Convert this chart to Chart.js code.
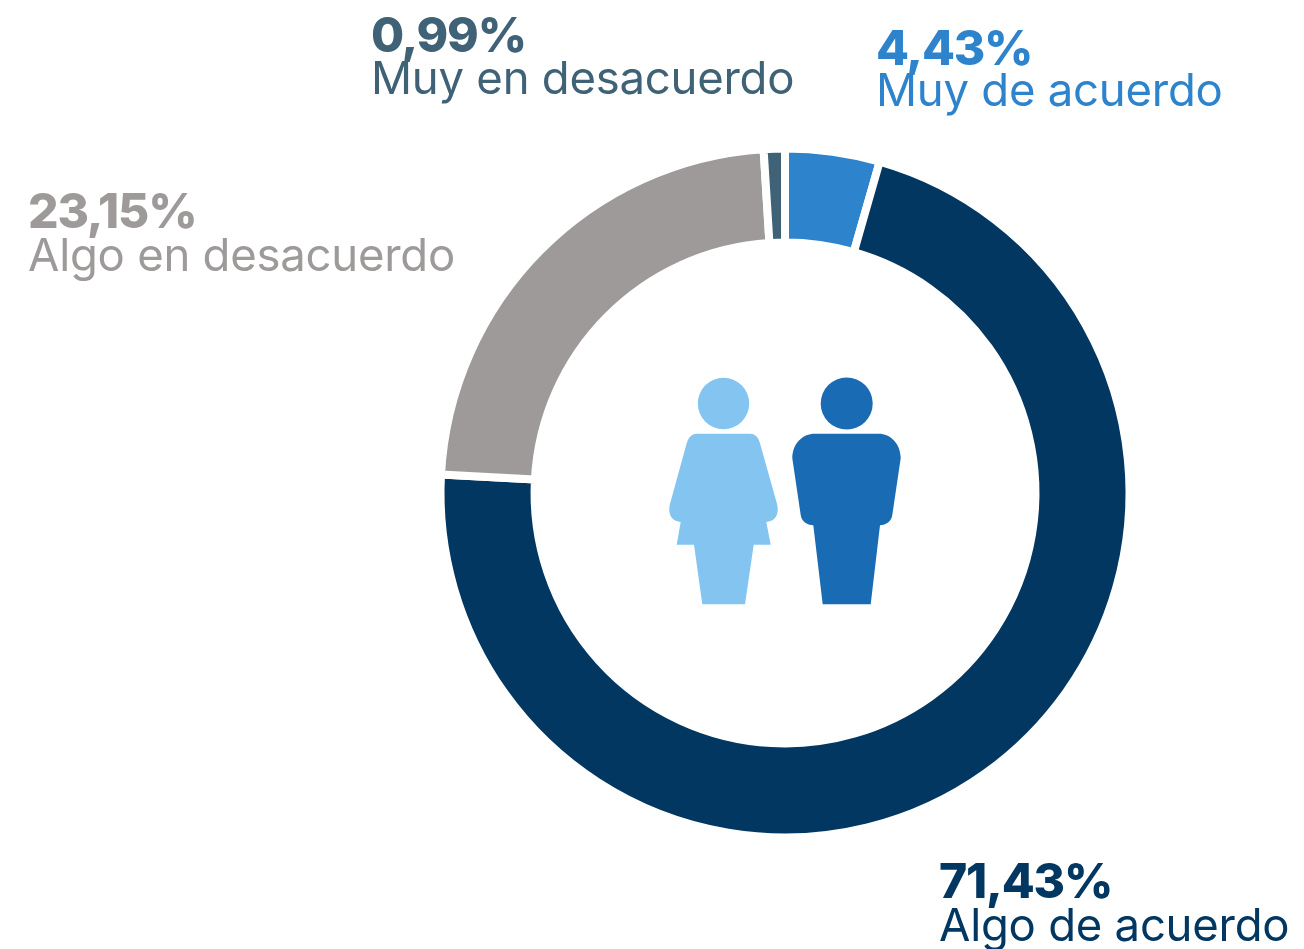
<!DOCTYPE html>
<html lang="es">
<head>
<meta charset="utf-8">
<title>Grado de acuerdo</title>
<script src="https://cdn.jsdelivr.net/npm/chart.js@4"></script>
<style>
    html, body { margin: 0; padding: 0; background: #fff; }
    #wrap { position: relative; width: 1304px; height: 949px; overflow: hidden; }
    #grafico { position: absolute; left: 0; top: 0; }
    #figuras { position: absolute; left: 0; top: 0; }
</style>
</head>
<body>
<div id="wrap">
    <canvas id="grafico" width="1304" height="949"></canvas>
    <svg id="figuras" width="1304" height="949" viewBox="0 0 1304 949">
        <g fill="#83C5F0">
            <circle cx="723.5" cy="403.5" r="25.7"/>
            <path d="M697 433.7H750C755 433.7 758.5 437 760 443.3L776.5 502C780 514 776 521 766.3 522L770.7 544.7H753.7L745 604.3H702.3L694 544.7H676.7L680.7 522C671 521 667 514 670.5 502L686.7 443.3C688.5 437 692 433.7 697 433.7Z"/>
        </g>
        <g fill="#196BB4">
            <circle cx="846.7" cy="403.5" r="26"/>
            <path d="M815 433.7H878.3C891 433.7 900.7 444 900.7 458.3L892.3 515C891.5 521 886 525.3 880 525.3L870.7 604.3H822.7L813.3 525.3C807 525.3 801.5 521 800.7 515L792.3 458.3C792.3 444 802 433.7 815 433.7Z"/>
        </g>
    </svg>
</div>
<script>
const categorias = ['Muy de acuerdo', 'Algo de acuerdo', 'Algo en desacuerdo', 'Muy en desacuerdo'];
const valores = [4.43, 71.43, 23.15, 0.99];
const etiquetas = ['4,43%', '71,43%', '23,15%', '0,99%'];
const colores = ['#2E84CC', '#023761', '#9E9A99', '#3F6277'];
// x, linea del % y linea del texto
const posX = [876, 939, 28, 371];
const posY = [65, 898, 228, 52];
const posY2 = [106, 941, 271, 94];

const textos = {
    id: 'textos',
    afterDraw(chart) {
        const ctx = chart.ctx;
        ctx.save();
        ctx.textBaseline = 'alphabetic';
        categorias.forEach(function (nombre, i) {
            ctx.fillStyle = colores[i];
            ctx.font = '800 48px Inter';
            ctx.letterSpacing = '-1.2px';
            ctx.fillText(etiquetas[i], posX[i], posY[i]);
            ctx.font = '380 45.5px Inter';
            ctx.letterSpacing = '-0.25px';
            ctx.fillText(nombre, posX[i], posY2[i]);
        });
        ctx.restore();
    }
};

const ctx = document.getElementById('grafico').getContext('2d');
new Chart(ctx, {
    type: 'doughnut',
    data: {
        labels: categorias,
        datasets: [{
            data: valores,
            backgroundColor: colores,
            borderColor: '#ffffff',
            borderWidth: 8,
            borderAlign: 'center'
        }]
    },
    options: {
        responsive: false,
        animation: false,
        radius: 344.5,
        cutout: '72.7%',
        layout: { padding: { left: 266, top: 37 } },
        plugins: {
            legend: { display: false },
            tooltip: { enabled: false }
        }
    },
    plugins: [textos]
});
</script>
</body>
</html>
